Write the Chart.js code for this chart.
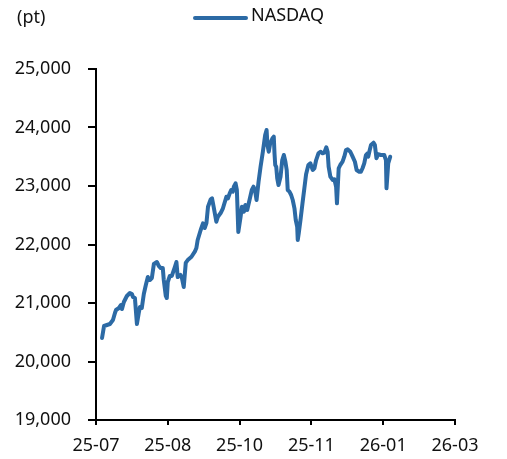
<!DOCTYPE html>
<html>
<head>
<meta charset="utf-8">
<script src="https://cdn.jsdelivr.net/npm/chart.js@4/dist/chart.umd.min.js"></script>
<style>
html,body{margin:0;padding:0;background:#fff;}
#wrap{width:507px;height:459px;position:relative;}
</style>
</head>
<body>
<div id="wrap"><canvas id="c" width="507" height="459"></canvas></div>
<script>
// Days since 2025-07-01
const days = [4.2,5.6,7.6,9.7,11.8,13.2,13.9,16,17.4,18.1,19.4,21.5,23.6,25,25.7,27.1,28.5,29.9,30.6,31.9,33.3,34.7,36.1,37.5,38.9,40.3,42.4,43.8,45.1,46.5,47.2,48.6,49.3,50,51.4,52.8,54.9,56,56.9,58.8,59.7,61.1,62.5,63.9,66.5,68.8,69.9,70.8,72.9,74.5,75.7,76.9,78,79.9,80.8,81.9,83.8,84.9,86.8,88.4,90.8,91.9,93.1,94.2,95.3,96,97.2,98.1,99.1,100.7,101.6,103,104,105.3,106.9,108.5,109.7,110.9,111.8,113.2,114.6,116.2,117.8,118.8,119.4,120.3,121.3,122.9,123.8,124.3,124.8,125.5,126.2,127.1,128.5,129.7,130.8,131.9,132.8,133.5,134.7,135.9,137,138.2,139.1,140.1,140.5,141.2,142.4,143.8,145.1,146.3,147.9,149.3,150.9,152.1,153.3,154.9,156.3,157.8,159,160.4,161.3,162,163.2,164.8,166,167.2,167.8,169,170.1,171.7,172.9,174.1,175.2,177.1,178.7,180.3,181.5,183.3,184.5,185.6,186.8,188,189.1,189.6,190.5,191.5,193.3,194.2,195.3,196.5,198.4,200.7,201.9,202.3,203.5,204.9];
const nasdaq = [20402,20607,20624,20641,20709,20829,20880,20915,20966,20897,21017,21120,21171,21154,21103,21085,20641,20846,20932,20915,21154,21308,21444,21393,21427,21667,21701,21632,21598,21598,21393,21120,21085,21359,21462,21462,21615,21701,21444,21479,21444,21274,21684,21735,21791,21877,21940,22077,22248,22362,22282,22367,22646,22773,22790,22646,22390,22475,22538,22619,22817,22790,22875,22932,22903,22988,23046,22932,22214,22475,22646,22561,22675,22590,22761,22932,22988,22903,22761,23074,23330,23586,23872,23957,23701,23586,23730,23815,23843,23559,23359,23330,23132,23017,23159,23444,23530,23415,23274,22932,22903,22846,22761,22619,22419,22304,22077,22191,22419,22704,22961,23200,23359,23388,23274,23303,23444,23559,23586,23559,23569,23662,23586,23330,23159,23103,23115,22988,22704,23303,23359,23415,23501,23615,23627,23586,23501,23415,23274,23244,23244,23303,23388,23530,23559,23501,23603,23701,23740,23701,23473,23542,23530,23530,23444,22961,23388,23501];
const xTickLabels = ['25-07','25-08','25-10','25-11','26-01','26-03'];
const seriesName = 'NASDAQ';
const unitLabel = '(pt)';

const FONT = "'Noto Sans',sans-serif";
const LINE = '#2C6AA5';

const overlay = {
  id:'overlay',
  afterDraw(chart){
    const ctx = chart.ctx;
    ctx.save();
    ctx.font = '18px ' + FONT;
    ctx.fillStyle = '#111';
    ctx.textBaseline = 'middle';
    ctx.textAlign = 'left';
    ctx.fillText(unitLabel, 17, 18);
    ctx.strokeStyle = chart.data.datasets[0].borderColor;
    ctx.lineWidth = 4;
    ctx.lineCap = 'round';
    ctx.beginPath();
    ctx.moveTo(195, 18);
    ctx.lineTo(246, 18);
    ctx.stroke();
    ctx.fillText(chart.data.datasets[0].label, 251, 16);
    ctx.restore();
  }
};

new Chart(document.getElementById('c'), {
  type:'line',
  data:{
    datasets:[{
      label: seriesName,
      data: days.map((d,i)=>({x:d, y:nasdaq[i]})),
      borderColor: LINE,
      backgroundColor: LINE,
      borderWidth: 4,
      pointRadius: 0,
      tension: 0,
      borderJoinStyle:'round',
      borderCapStyle:'round'
    }]
  },
  options:{
    responsive:false,
    animation:false,
    devicePixelRatio:1,
    layout:{padding:{top:69,left:0,right:52,bottom:0}},
    plugins:{legend:{display:false}, tooltip:{enabled:false}},
    scales:{
      x:{
        type:'linear', min:0, max:250,
        afterFit(s){ s.height = 39; },
        grid:{drawOnChartArea:false, drawTicks:true, tickLength:5, color:'#000', lineWidth:2},
        border:{display:true, color:'#000', width:2},
        ticks:{
          stepSize:50, maxRotation:0, autoSkip:false, padding:10,
          color:'#111', font:{family:FONT, size:18},
          callback:(v)=> xTickLabels[Math.round(v/50)] ?? ''
        }
      },
      y:{
        min:19000, max:25000,
        afterFit(s){ s.width = 96; },
        grid:{drawOnChartArea:false, drawTicks:true, tickLength:8, color:'#000', lineWidth:2},
        border:{display:true, color:'#000', width:2},
        ticks:{
          stepSize:1000, padding:17,
          color:'#111', font:{family:FONT, size:18},
          callback:(v)=> v.toLocaleString('en-US')
        }
      }
    }
  },
  plugins:[overlay]
});
</script>
</body>
</html>
